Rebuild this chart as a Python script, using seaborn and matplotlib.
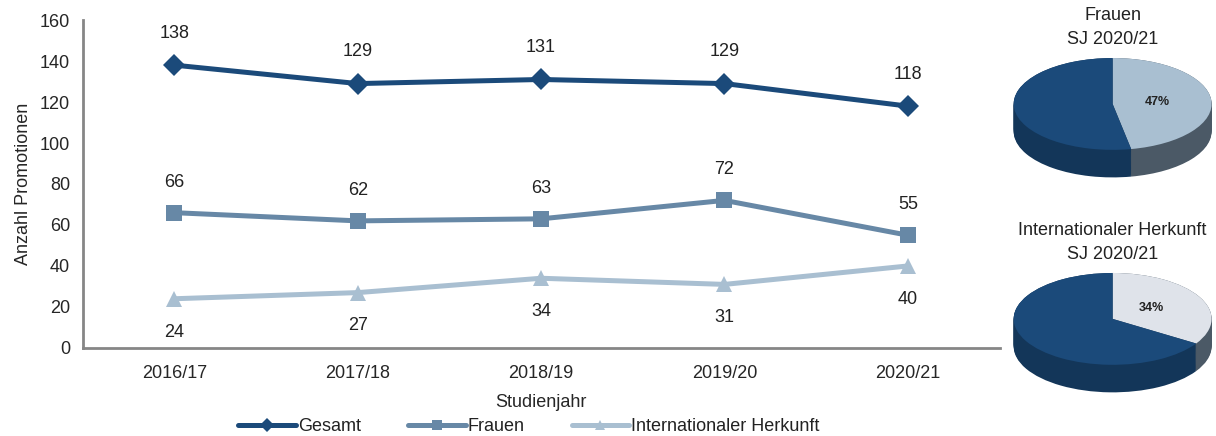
import seaborn as sns
import matplotlib.pyplot as plt
import pandas as pd
import numpy as np

# Daten
jahre = ["2016/17", "2017/18", "2018/19", "2019/20", "2020/21"]
gesamt = [138, 129, 131, 129, 118]
frauen = [66, 62, 63, 72, 55]
international = [24, 27, 34, 31, 40]
serien = ["Gesamt", "Frauen", "Internationaler Herkunft"]

pie_titel = ["Frauen\nSJ 2020/21", "Internationaler Herkunft\nSJ 2020/21"]
pie_anteil = [47, 34]

farben = {"Gesamt": "#1b4a7a", "Frauen": "#6788a6", "Internationaler Herkunft": "#a9bfd1"}
marker = {"Gesamt": "D", "Frauen": "s", "Internationaler Herkunft": "^"}

df = pd.DataFrame({
    "Studienjahr": jahre * 3,
    "Anzahl": gesamt + frauen + international,
    "Serie": [s for s in serien for _ in jahre],
})

sns.set_style("white")
plt.rcParams["font.family"] = ["Liberation Sans", "DejaVu Sans"]
plt.rcParams["text.color"] = "#222222"
fs = 13

fig = plt.figure(figsize=(12.16, 4.36), dpi=100)
ax = fig.add_axes([0.068, 0.202, 0.754, 0.752])

sns.lineplot(data=df, x="Studienjahr", y="Anzahl", hue="Serie", style="Serie",
             palette=farben, markers=marker, dashes=False, linewidth=3.6,
             markersize=11, markeredgewidth=0, ax=ax, sort=False)

# Werte beschriften
for werte, dy in [(gesamt, 23), (frauen, 22), (international, -24)]:
    for i, v in enumerate(werte):
        ax.annotate(str(v), (i, v), xytext=(0, dy), textcoords="offset points",
                    ha="center", va="center", fontsize=fs)

ax.set_xlim(-0.5, len(jahre) - 0.5)
ax.set_ylim(0, 160)
ax.set_yticks(range(0, 161, 20))
ax.set_xticks(range(len(jahre)))
ax.set_xticklabels(jahre)
ax.set_xticks(np.arange(-0.5, len(jahre), 1), minor=True)
ax.tick_params(axis="x", which="major", length=0, labelsize=fs, pad=12)
ax.tick_params(axis="x", which="minor", length=5, width=1.5, color="#868686", direction="out")
ax.tick_params(axis="y", length=5, width=1.5, color="#868686", direction="out", labelsize=fs, pad=4)
ax.set_xlabel("Studienjahr", fontsize=fs, labelpad=9)
ax.set_ylabel("Anzahl Promotionen", fontsize=fs, labelpad=6)
for s in ["top", "right"]:
    ax.spines[s].set_visible(False)
for s in ["left", "bottom"]:
    ax.spines[s].set_color("#868686")
    ax.spines[s].set_linewidth(2)

handles, labels = ax.get_legend_handles_labels()
ax.get_legend().remove()
for h in handles:
    h.set_markersize(7)
fig.legend(handles, labels, loc="center", bbox_to_anchor=(0.435, 0.021), ncol=3,
           frameon=False, fontsize=fs, handlelength=3.2, handletextpad=0.1,
           columnspacing=2.6)

# 3D-artige Kreisdiagramme
pie_pos = [[0.832, 0.591, 0.166, 0.278], [0.832, 0.098, 0.166, 0.278]]
titel_y = [0.937, 0.444]
hell = ["#a9bfd1", "#dfe3ea"]
for k in range(2):
    pax = fig.add_axes(pie_pos[k])
    anteil = [pie_anteil[k], 100 - pie_anteil[k]]
    tiefe = 0.6
    for t in np.linspace(tiefe, 0.0, 30):
        pax.pie(anteil, colors=["#4b5966", "#133659"], startangle=90, counterclock=False,
                center=(0, -t), radius=1.0, wedgeprops=dict(linewidth=0))
    pax.pie(anteil, colors=[hell[k], "#1b4a7a"], startangle=90, counterclock=False,
            center=(0, 0), radius=1.0, wedgeprops=dict(linewidth=0))
    pax.set_aspect("auto")
    pax.set_xlim(-1.02, 1.02)
    pax.set_ylim(-1.62, 1.02)
    winkel = np.deg2rad(90 - 3.6 * pie_anteil[k] / 2)
    pax.text(0.45 * np.cos(winkel), 0.5 * np.sin(winkel), f"{pie_anteil[k]}%",
             ha="center", va="center", fontsize=9, fontweight="bold", color="#222222")
    fig.text(pie_pos[k][0] + pie_pos[k][2] / 2, titel_y[k],
             pie_titel[k], ha="center", va="center", fontsize=fs, linespacing=1.55)

fig.savefig("out.png", dpi=100)
